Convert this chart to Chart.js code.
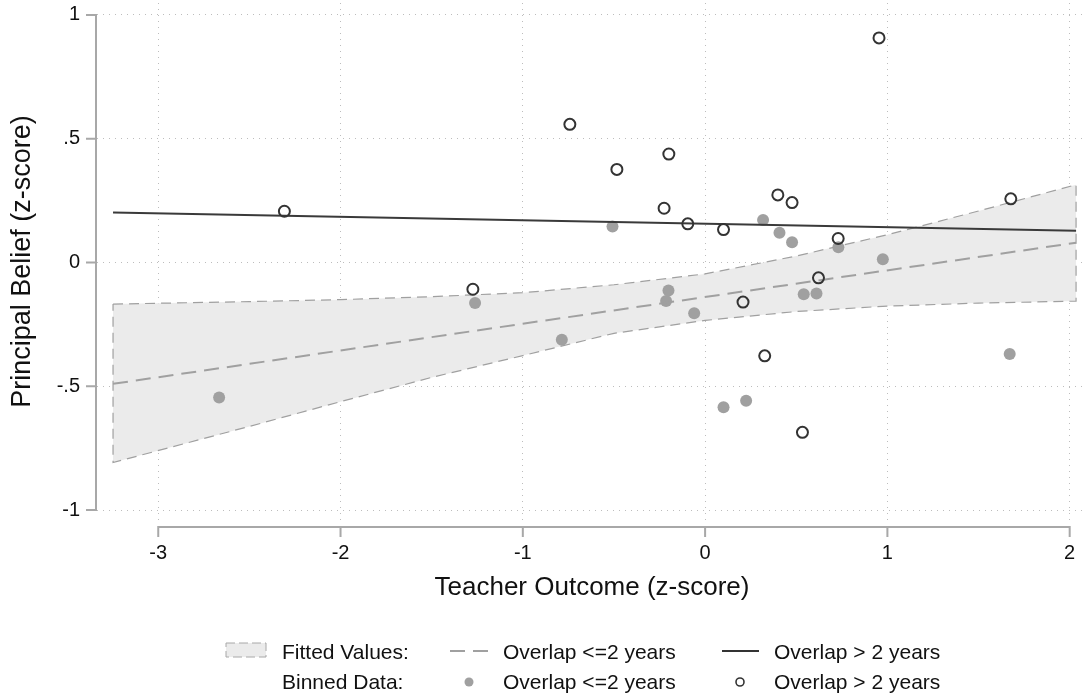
<!DOCTYPE html>
<html>
<head>
<meta charset="utf-8">
<script src="https://cdn.jsdelivr.net/npm/chart.js@4.4.0/dist/chart.umd.min.js"></script>
<style>
  html, body { margin: 0; padding: 0; background: #fff; }
  #wrap { position: relative; width: 1087px; height: 696px; }
  #chart { position: absolute; left: 0; top: 0; }
  .lg { position: absolute; font-family: 'Liberation Sans', Arial, Helvetica, sans-serif; font-size: 21px; color: #111; line-height: 24px; white-space: nowrap; }
  .sym { position: absolute; }
</style>
</head>
<body>
<div id="wrap">
  <canvas id="chart" width="1087" height="696"></canvas>

  <svg class="sym" style="left:225px;top:642px" width="43" height="17">
    <rect x="1" y="1" width="40" height="14" fill="#ebebeb" stroke="#a8a8a8" stroke-width="1" stroke-dasharray="9 4"/>
  </svg>
  <div class="lg" style="left:282px;top:640px">Fitted Values:</div>
  <svg class="sym" style="left:450px;top:646px" width="40" height="10">
    <line x1="0" y1="5" x2="38" y2="5" stroke="#a0a0a0" stroke-width="2" stroke-dasharray="15 8"/>
  </svg>
  <div class="lg" style="left:503px;top:640px">Overlap &lt;=2 years</div>
  <svg class="sym" style="left:722px;top:646px" width="40" height="10">
    <line x1="0" y1="5" x2="37" y2="5" stroke="#333" stroke-width="2"/>
  </svg>
  <div class="lg" style="left:774px;top:640px">Overlap &gt; 2 years</div>

  <div class="lg" style="left:282px;top:670px">Binned Data:</div>
  <svg class="sym" style="left:463px;top:676px" width="12" height="12">
    <circle cx="6" cy="6" r="4.5" fill="#a0a0a0"/>
  </svg>
  <div class="lg" style="left:503px;top:670px">Overlap &lt;=2 years</div>
  <svg class="sym" style="left:734px;top:676px" width="12" height="12">
    <circle cx="6" cy="6" r="4" fill="none" stroke="#333" stroke-width="1.6"/>
  </svg>
  <div class="lg" style="left:774px;top:670px">Overlap &gt; 2 years</div>
</div>

<script>
// axis ticks
var xTicks = [-3, -2, -1, 0, 1, 2];
var yTicks = [-1, -0.5, 0, 0.5, 1];
var yTickLabels = ['-1', '-.5', '0', '.5', '1'];

// binned data, overlap <= 2 years (filled dots)
var shortX = [-2.666, -1.262, -0.786, -0.508, -0.201, -0.214, -0.060, 0.101, 0.225, 0.318, 0.408, 0.477, 0.541, 0.611, 0.731, 0.975, 1.671];
var shortY = [-0.545, -0.164, -0.312, 0.145, -0.113, -0.156, -0.205, -0.585, -0.558, 0.172, 0.120, 0.082, -0.128, -0.125, 0.062, 0.013, -0.370];

// binned data, overlap > 2 years (hollow circles)
var longX = [-2.308, -1.274, -0.742, -0.484, -0.199, -0.225, -0.095, 0.101, 0.399, 0.477, 0.208, 0.327, 0.534, 0.622, 0.730, 1.677, 0.954];
var longY = [0.207, -0.108, 0.558, 0.376, 0.438, 0.219, 0.156, 0.133, 0.273, 0.242, -0.160, -0.377, -0.686, -0.062, 0.097, 0.257, 0.907];

// fitted lines
var fitX = [-3.248, 2.035];
var fitShort = [-0.490, 0.080];
var fitLong = [0.202, 0.128];

// confidence band around the <=2 years fit
var bandX = [-3.248, -2.5, -2, -1.5, -1, -0.5, 0, 0.5, 1, 1.5, 2.035];
var bandHi = [-0.168, -0.158, -0.150, -0.138, -0.122, -0.090, -0.046, 0.026, 0.112, 0.208, 0.314];
var bandLo = [-0.808, -0.662, -0.562, -0.464, -0.376, -0.286, -0.234, -0.198, -0.176, -0.164, -0.156];

function pairs(xs, ys) {
  return xs.map(function(x, i) { return {x: x, y: ys[i]}; });
}

// band outline: along the top, down the right edge, back along the bottom, up the left edge
var bandShape = pairs(bandX, bandHi)
  .concat(pairs(bandX, bandLo).reverse())
  .concat([{x: bandX[0], y: bandHi[0]}]);

var fontFamily = "'Liberation Sans', Arial, Helvetica, sans-serif";

// offset axis lines with outward ticks, drawn apart from the plot region
var stataAxes = {
  id: 'stataAxes',
  afterDraw: function(chart) {
    var ctx = chart.ctx;
    var area = chart.chartArea;
    var xs = chart.scales.x, ys = chart.scales.y;
    var ax = area.left - 1;
    var ay = area.bottom + 7;
    ctx.save();
    ctx.strokeStyle = '#a8a8a8';
    ctx.lineWidth = 2;
    ctx.lineCap = 'butt';
    ctx.beginPath();
    ctx.moveTo(ax, ys.getPixelForValue(yTicks[yTicks.length - 1]) - 1);
    ctx.lineTo(ax, ys.getPixelForValue(yTicks[0]) + 1);
    yTicks.forEach(function(v) {
      var p = ys.getPixelForValue(v);
      ctx.moveTo(ax, p);
      ctx.lineTo(ax - 10, p);
    });
    ctx.moveTo(xs.getPixelForValue(xTicks[0]) - 1, ay);
    ctx.lineTo(xs.getPixelForValue(xTicks[xTicks.length - 1]) + 1, ay);
    xTicks.forEach(function(v) {
      var p = xs.getPixelForValue(v);
      ctx.moveTo(p, ay);
      ctx.lineTo(p, ay + 10);
    });
    ctx.stroke();
    ctx.restore();
  }
};

var ctx = document.getElementById('chart').getContext('2d');

new Chart(ctx, {
  type: 'scatter',
  data: {
    datasets: [
      {
        label: 'Overlap > 2 years',
        data: pairs(longX, longY),
        pointRadius: 5.5,
        pointBorderWidth: 2,
        pointBorderColor: '#333333',
        pointBackgroundColor: 'rgba(0,0,0,0)'
      },
      {
        type: 'line',
        label: 'Fitted > 2 years',
        data: pairs(fitX, fitLong),
        borderColor: '#3a3a3a',
        borderWidth: 2,
        pointRadius: 0,
        fill: false
      },
      {
        type: 'line',
        label: 'Fitted <=2 years',
        data: pairs(fitX, fitShort),
        borderColor: '#a0a0a0',
        borderWidth: 2,
        borderDash: [15, 8],
        pointRadius: 0,
        fill: false
      },
      {
        label: 'Overlap <=2 years',
        data: pairs(shortX, shortY),
        pointRadius: 6,
        pointBorderWidth: 0,
        pointBackgroundColor: '#a0a0a0'
      },
      {
        type: 'line',
        label: 'CI',
        data: bandShape,
        borderColor: '#a0a0a0',
        borderWidth: 1.2,
        borderDash: [10, 6],
        backgroundColor: '#ebebeb',
        pointRadius: 0,
        tension: 0,
        fill: 'shape'
      }
    ]
  },
  options: {
    responsive: false,
    animation: false,
    layout: { autoPadding: false, padding: { top: 3, right: 0, bottom: 0, left: 0 } },
    plugins: {
      legend: { display: false },
      tooltip: { enabled: false }
    },
    scales: {
      x: {
        type: 'linear',
        min: -3.336,
        max: 2.095,
        afterBuildTicks: function(s) { s.ticks = xTicks.map(function(v) { return {value: v}; }); },
        afterFit: function(s) { s.height = 176; s.paddingLeft = 0; s.paddingRight = 0; },
        grid: { color: '#bdbdbd', lineWidth: 1, drawTicks: false },
        border: { display: false, dash: [1, 5] },
        ticks: {
          padding: 21,
          maxRotation: 0,
          autoSkip: false,
          color: '#111',
          font: { family: fontFamily, size: 20 },
          callback: function(v) { return String(v); }
        },
        title: {
          display: true,
          text: 'Teacher Outcome (z-score)',
          color: '#111',
          font: { family: fontFamily, size: 26 },
          padding: { top: 0, bottom: 93 }
        }
      },
      y: {
        type: 'linear',
        min: -1.040,
        max: 1.048,
        afterBuildTicks: function(s) { s.ticks = yTicks.map(function(v) { return {value: v}; }); },
        afterFit: function(s) { s.width = 97; s.paddingTop = 0; s.paddingBottom = 0; },
        grid: { color: '#bdbdbd', lineWidth: 1, drawTicks: false },
        border: { display: false, dash: [1, 5] },
        ticks: {
          padding: 17,
          color: '#111',
          font: { family: fontFamily, size: 20 },
          callback: function(v) { return yTickLabels[yTicks.indexOf(v)]; }
        },
        title: {
          display: true,
          text: 'Principal Belief (z-score)',
          color: '#111',
          font: { family: fontFamily, size: 27 },
          padding: { top: 6, bottom: 0 }
        }
      }
    }
  },
  plugins: [stataAxes]
});
</script>
</body>
</html>
